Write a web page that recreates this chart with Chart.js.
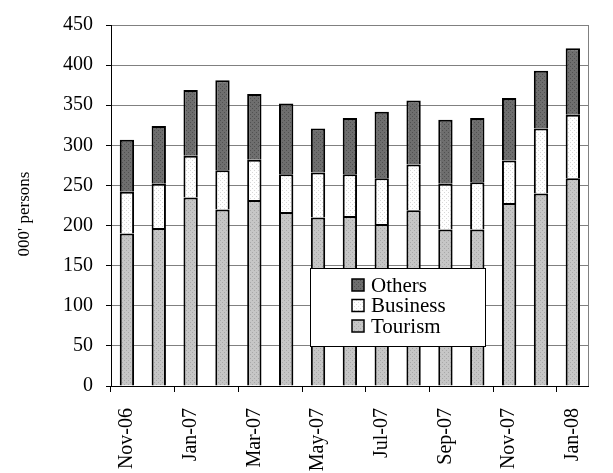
<!DOCTYPE html>
<html>
<head>
<meta charset="utf-8">
<script src="https://cdn.jsdelivr.net/npm/chart.js@4/dist/chart.umd.min.js"></script>
<style>
  html, body { margin: 0; padding: 0; background: #fff; }
  #wrap { width: 613px; height: 473px; }
</style>
</head>
<body>
<div id="wrap"><canvas id="myChart"></canvas></div>
<script>
// Месяцы (ось X)
var months = ['Nov-06', 'Dec-06', 'Jan-07', 'Feb-07', 'Mar-07', 'Apr-07', 'May-07', 'Jun-07',
  'Jul-07', 'Aug-07', 'Sep-07', 'Oct-07', 'Nov-07', 'Dec-07', 'Jan-08'];

// Значения, тыс. человек
var tourism  = [190, 197, 235, 220, 232, 217, 210, 212, 202, 219, 195, 195, 228, 240, 259];
var business = [52, 55, 52, 49, 50, 47, 56, 52, 57, 57, 57, 59, 53, 81, 79];
var others   = [65, 72, 82, 112, 82, 88, 55, 70, 83, 80, 80, 80, 78, 72, 83];

// Деления оси Y
var yMin = 0, yMax = 450, yStep = 50;

// Точечная заливка как в Excel
function makePattern(bg, dot) {
  var c = document.createElement('canvas');
  c.width = 4; c.height = 4;
  var g = c.getContext('2d');
  g.fillStyle = bg;
  g.fillRect(0, 0, 4, 4);
  g.fillStyle = dot;
  g.fillRect(0, 0, 1, 1);
  g.fillRect(2, 2, 1, 1);
  return g.createPattern(c, 'repeat');
}

var fillTourism = makePattern('#c6c6c6', '#a8a8a8');
var fillBusiness = makePattern('#ffffff', '#d8d8d8');
var fillOthers = makePattern('#6e6e6e', '#505050');

Chart.defaults.font.family = "'Liberation Serif', 'Times New Roman', serif";
Chart.defaults.font.size = 20;
Chart.defaults.color = '#000';

// Легенда внутри области графика + правая граница
var insideLegend = {
  id: 'insideLegend',
  afterDraw: function(chart) {
    var ctx = chart.ctx;
    var area = chart.chartArea;
    ctx.save();
    ctx.strokeStyle = '#808080';
    ctx.lineWidth = 1;
    ctx.beginPath();
    ctx.moveTo(Math.round(area.right) - 0.5, area.top);
    ctx.lineTo(Math.round(area.right) - 0.5, area.bottom);
    ctx.stroke();

    var bx = 310.5, by = 268.5, bw = 175, bh = 78;
    ctx.fillStyle = '#fff';
    ctx.fillRect(bx, by, bw, bh);
    ctx.strokeStyle = '#000';
    ctx.lineWidth = 1;
    ctx.strokeRect(bx, by, bw, bh);

    var items = chart.data.datasets.slice().reverse();
    ctx.font = "21px 'Liberation Serif', serif";
    ctx.textBaseline = 'middle';
    items.forEach(function(ds, i) {
      var cy = 285 + i * 20.5;
      ctx.fillStyle = ds.backgroundColor;
      ctx.fillRect(352, cy - 6, 12, 12);
      ctx.lineWidth = 1.5;
      ctx.strokeStyle = '#000';
      ctx.strokeRect(352, cy - 6, 12, 12);
      ctx.fillStyle = '#000';
      ctx.fillText(ds.label, 371, cy + 1);
    });
    ctx.restore();
  }
};

var chart = new Chart(document.getElementById('myChart'), {
  type: 'bar',
  data: {
    labels: months,
    datasets: [
      { label: 'Tourism', data: tourism, backgroundColor: fillTourism },
      { label: 'Business', data: business, backgroundColor: fillBusiness },
      { label: 'Others', data: others, backgroundColor: fillOthers }
    ]
  },
  options: {
    responsive: true,
    maintainAspectRatio: false,
    animation: false,
    layout: { padding: { top: 22, right: 5, left: 0, bottom: 0 } },
    datasets: {
      bar: {
        borderColor: '#000',
        borderWidth: 2,
        categoryPercentage: 1,
        barPercentage: 0.45
      }
    },
    scales: {
      x: {
        stacked: true,
        offset: true,
        border: { color: '#000', width: 1 },
        grid: {
          offset: true,
          drawOnChartArea: false,
          drawTicks: true,
          tickLength: 6,
          tickColor: function(ctx) { return ctx.index % 2 === 0 ? '#000' : 'rgba(0,0,0,0)'; }
        },
        ticks: {
          autoSkip: false,
          maxRotation: 90,
          minRotation: 90,
          padding: 16,
          callback: function(v, i) { return i % 2 === 0 ? months[i] : ''; }
        },
        afterFit: function(scale) { scale.height = 87; }
      },
      y: {
        stacked: true,
        min: yMin,
        max: yMax,
        border: { color: '#000', width: 1 },
        grid: { color: '#808080', lineWidth: 1, tickLength: 5, tickColor: '#000' },
        ticks: { stepSize: yStep, padding: 13 },
        title: {
          display: true,
          text: "000' persons    ",
          font: { size: 17 },
          padding: { top: 14, bottom: 0 }
        },
        afterFit: function(scale) { scale.width = 111; }
      }
    },
    plugins: {
      legend: { display: false },
      tooltip: { enabled: false }
    }
  },
  plugins: [insideLegend]
});
</script>
</body>
</html>
